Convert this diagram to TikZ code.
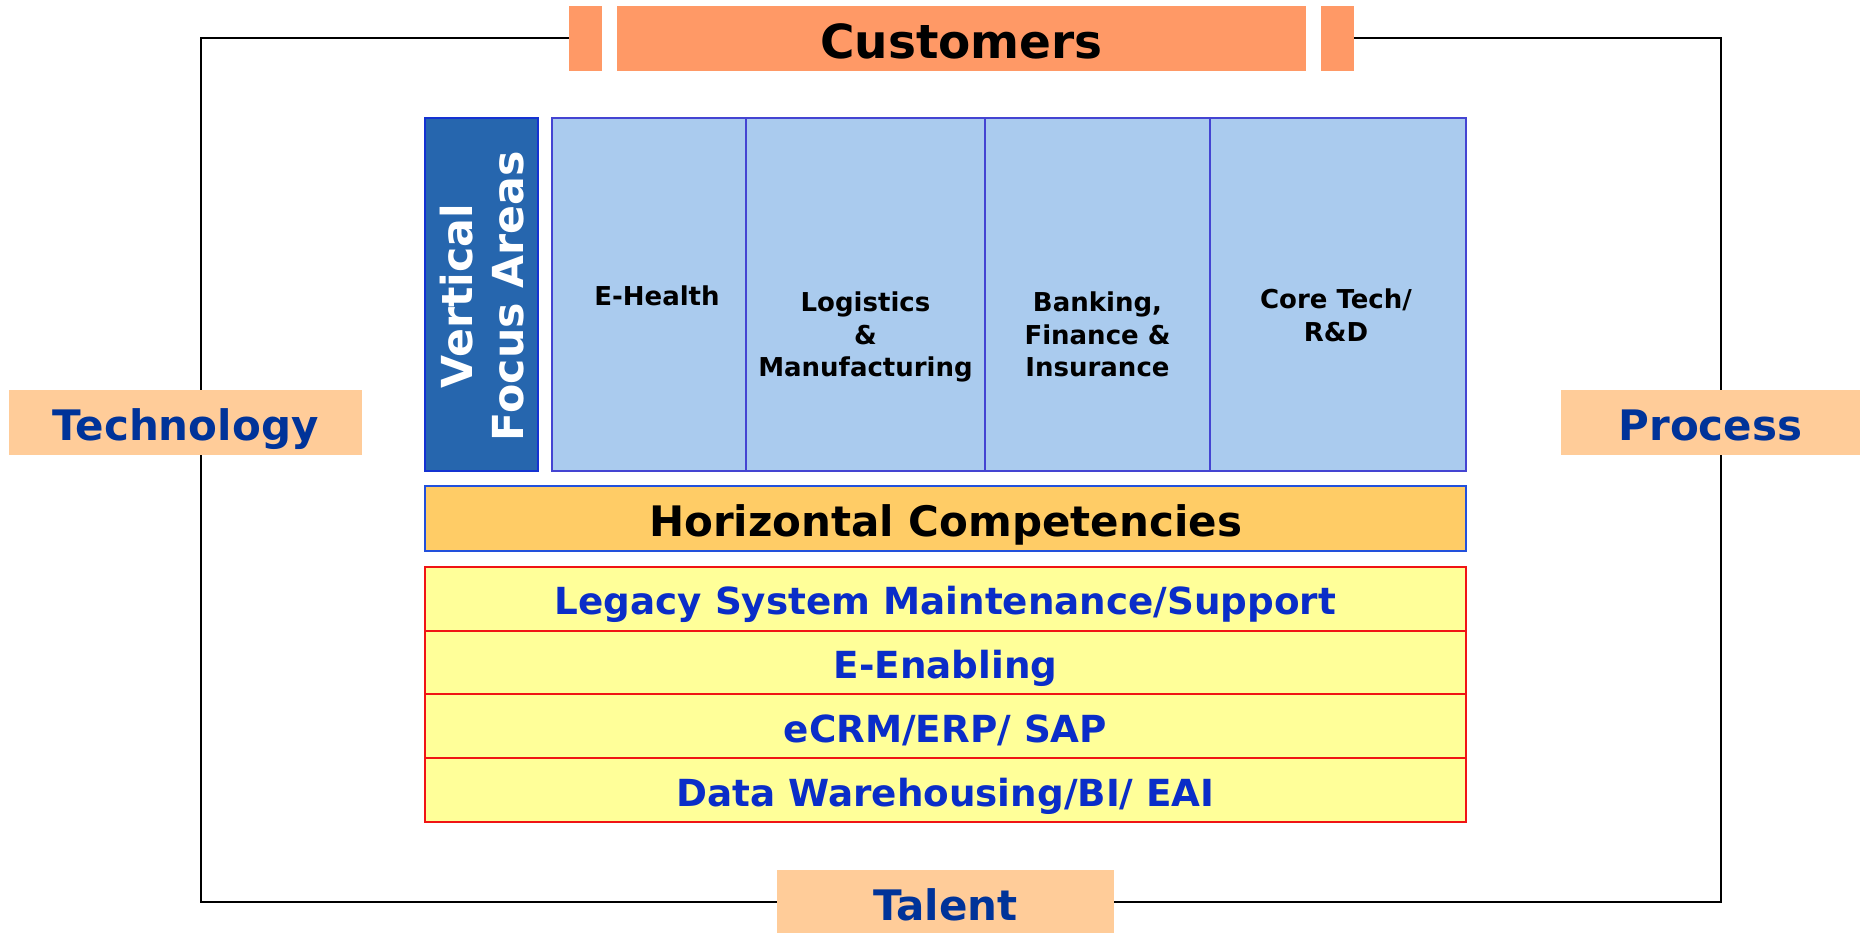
\documentclass[tikz,border=0pt]{standalone}
\usepackage{fontspec}
\setmainfont{DejaVu Sans}
\definecolor{custorange}{RGB}{255,153,102}
\definecolor{peach}{RGB}{255,204,153}
\definecolor{navytext}{RGB}{0,51,153}
\definecolor{vblue}{RGB}{38,102,174}
\definecolor{vborder}{RGB}{20,50,210}
\definecolor{lblue}{RGB}{170,203,238}
\definecolor{lborder}{RGB}{68,68,210}
\definecolor{horange}{RGB}{255,204,102}
\definecolor{hborder}{RGB}{34,80,220}
\definecolor{lyellow}{RGB}{255,255,153}
\definecolor{rowblue}{RGB}{10,45,200}
\definecolor{rowred}{RGB}{240,20,20}
\begin{document}
\begin{tikzpicture}[x=0.5pt,y=-0.5pt,
  custbox/.style={fill=custorange, inner sep=0pt, outer sep=0pt, minimum height=32.5pt,
    font=\fontsize{23.5}{28}\selectfont\bfseries, text height=19.6pt, text depth=0pt},
  peachbox/.style={fill=peach, inner sep=0pt, outer sep=0pt, minimum height=32.5pt, text=navytext,
    font=\fontsize{21}{25}\selectfont\bfseries, text height=17.8pt, text depth=0pt},
  lbox/.style={draw=lborder, fill=lblue, line width=1pt, inner sep=0pt, minimum height=176.5pt},
  smalltext/.style={inner sep=0pt, align=center, font=\fontsize{13}{16.25}\selectfont\bfseries},
  rowbox/.style={draw=rowred, fill=lyellow, line width=1pt, inner sep=0pt, minimum width=520.85pt,
    minimum height=32pt, text=rowblue, font=\fontsize{18.65}{22}\selectfont\bfseries,
    text height=16.1pt, text depth=0pt}]
\useasboundingbox (0,0) rectangle (1860,933);

% outer frame
\draw[line width=1pt] (201,38) rectangle (1721,902);
\fill[white] (569,4) rectangle (1354,72);

% Customers
\node[custbox, minimum width=16.5pt] (custL) at (585.5,38.5) {};
\node[custbox, minimum width=344.5pt] (cust) at (961.5,38.5) {Customers};
\node[custbox, minimum width=16.5pt] (custR) at (1337.5,38.5) {};

% side labels
\node[peachbox, minimum width=176.5pt] (tech) at (185.5,422.5) {Technology};
\node[peachbox, minimum width=149.5pt] (proc) at (1710.5,422.5) {Process};
\node[peachbox, minimum width=168.75pt, minimum height=31.5pt, text height=18.9pt] (talent) at (945.25,901.5) {Talent};

% vertical focus areas
\node[draw=vborder, fill=vblue, line width=0.8pt, inner sep=0pt, minimum width=56.5pt, minimum height=176.5pt] (vbox) at (481.5,294.5) {};
\node[rotate=90, text=white, align=center, inner sep=0pt,
  font=\fontsize{21.35}{25.5}\selectfont\bfseries] (vtext) at (482,296) {Vertical\\Focus Areas};

\node[lbox, minimum width=105pt] (ehealth) at (657,294.5) {};
\node[lbox, minimum width=119.75pt] (logist) at (865.75,294.5) {};
\node[lbox, minimum width=112.3pt] (bank) at (1097.3,294.5) {};
\node[lbox, minimum width=128pt] (core) at (1337.6,294.5) {};

\node[smalltext, text height=9.5pt, text depth=0pt] (ehealthT) at (657,296) {E-Health};
\node[smalltext] (logistT) at (865.5,337) {Logistics\\\&\\Manufacturing};
\node[smalltext] (bankT) at (1097.5,334.5) {Banking,\\Finance \&\\Insurance};
\node[smalltext] (coreT) at (1336,315.5) {Core Tech/\\R\&D};

% horizontal competencies
\node[draw=hborder, fill=horange, line width=1pt, inner sep=0pt, minimum width=520.85pt,
  minimum height=32.35pt, font=\fontsize{21}{25}\selectfont\bfseries,
  text height=17.8pt, text depth=0pt] (horiz) at (945.5,518.4) {Horizontal Competencies};

\node[rowbox] (row1) at (945.5,598.7) {Legacy System Maintenance/Support};
\node[rowbox] (row2) at (945.5,662.5) {E-Enabling};
\node[rowbox] (row3) at (945.5,726.3) {eCRM/ERP/ SAP};
\node[rowbox] (row4) at (945.5,790.3) {Data Warehousing/BI/ EAI};
\end{tikzpicture}
\end{document}
